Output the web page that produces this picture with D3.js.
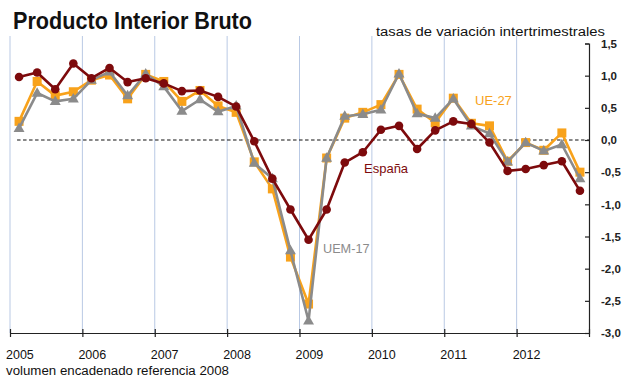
<!DOCTYPE html>
<html>
<head>
<meta charset="utf-8">
<script src="https://cdn.jsdelivr.net/npm/d3@7"></script>
<style>
  html, body { margin: 0; padding: 0; background: #fff; }
  svg { display: block; font-family: "Liberation Sans", Arial, Helvetica, sans-serif; }
</style>
</head>
<body>
<svg id="chart" width="640" height="380"></svg>
<script>
// ---- data ----
const years = [2005, 2006, 2007, 2008, 2009, 2010, 2011, 2012];
const quarterNames = ["T1", "T2", "T3", "T4"];
const yTicks = [1.5, 1.0, 0.5, 0.0, -0.5, -1.0, -1.5, -2.0, -2.5, -3.0];

const espana = [0.98, 1.05, 0.79, 1.19, 0.96, 1.12, 0.90, 0.96,
                0.88, 0.76, 0.77, 0.67, 0.52, -0.02, -0.60, -1.08,
                -1.55, -1.08, -0.35, -0.19, 0.16, 0.22, -0.14, 0.15,
                0.29, 0.25, -0.04, -0.48, -0.45, -0.39, -0.33, -0.79];
const ue27 = [0.29, 0.91, 0.69, 0.75, 0.93, 1.01, 0.64, 1.02,
              0.91, 0.60, 0.77, 0.53, 0.43, -0.34, -0.76, -1.82,
              -2.55, -0.28, 0.34, 0.43, 0.55, 1.02, 0.48, 0.27,
              0.65, 0.26, 0.22, -0.33, -0.04, -0.16, 0.11, -0.50];
const uem17 = [0.18, 0.73, 0.60, 0.64, 0.93, 1.06, 0.69, 1.03,
               0.83, 0.45, 0.63, 0.44, 0.53, -0.36, -0.60, -1.72,
               -2.81, -0.28, 0.37, 0.40, 0.47, 1.03, 0.41, 0.34,
               0.64, 0.22, 0.10, -0.34, -0.04, -0.17, -0.07, -0.60];

const quarters = [];
years.forEach(yr => quarterNames.forEach(q => quarters.push(yr + q)));

// ---- layout ----
const svg = d3.select("#chart");
const plotLeft = 10, plotRight = 589, plotTop = 43.5, plotBottom = 333;

const xBand = d3.scaleBand().domain(quarters).range([plotLeft, plotRight]).paddingInner(0).paddingOuter(0);
const xYear = d3.scaleLinear().domain([years[0], years[years.length - 1] + 1]).range([plotLeft, plotRight]);
const y = d3.scaleLinear().domain([-3, 1.5]).range([plotBottom, plotTop]);
const cx = (d, i) => xBand(quarters[i]) + xBand.bandwidth() / 2;

const colEsp = "#7d0a0c", colUE = "#f8a21b", colUEM = "#8b8b8b";

// gridlines
svg.append("g").selectAll("line")
  .data(years)
  .join("line")
  .attr("x1", d => xYear(d)).attr("x2", d => xYear(d))
  .attr("y1", 36).attr("y2", plotBottom)
  .attr("stroke", "#b9c9e4").attr("stroke-width", 1);

// zero dashed line
svg.append("line")
  .attr("x1", xBand(quarters[0]) + xBand.bandwidth() / 2 - 2).attr("x2", plotRight)
  .attr("y1", y(0)).attr("y2", y(0))
  .attr("stroke", "#111").attr("stroke-width", 1.2).attr("stroke-dasharray", "3.5,2.5");

// x axis
const xAxis = d3.axisBottom(xYear)
  .tickValues(years.concat([years[years.length - 1] + 1]))
  .tickSizeInner(4).tickSizeOuter(0).tickFormat("");
const gx = svg.append("g").attr("transform", `translate(0,${plotBottom})`).call(xAxis);
gx.select(".domain").attr("stroke", "#222").attr("stroke-width", 1.2);
gx.selectAll(".tick line").attr("stroke", "#222").attr("stroke-width", 1.2).attr("y1", -4).attr("y2", 4);

// year labels
svg.append("g").selectAll("text")
  .data(years)
  .join("text")
  .attr("x", d => xYear(d) - 4)
  .attr("y", 359)
  .attr("font-size", 12.5)
  .attr("fill", "#111")
  .text(d => d);

// y axis (right)
const fmt = d => d3.format(".1f")(d).replace("−", "-").replace(".", ",");
const yAxis = d3.axisRight(y).tickValues(yTicks).tickSizeInner(-4).tickSizeOuter(-4)
  .tickPadding(12).tickFormat(fmt);
const gy = svg.append("g").attr("transform", `translate(${plotRight},0)`).call(yAxis);
gy.select(".domain").attr("stroke", "#222").attr("stroke-width", 1.2);
gy.selectAll(".tick line").attr("stroke", "#222").attr("stroke-width", 1.2);
gy.selectAll(".tick text")
  .attr("font-size", 11.5).attr("font-weight", "bold").attr("fill", "#222")
  .attr("font-family", "'Liberation Sans', Arial, sans-serif");

// series
const line = d3.line().x(cx).y(d => y(d));

function drawSeries(data, color) {
  svg.append("path").datum(data)
    .attr("d", line)
    .attr("fill", "none").attr("stroke", color)
    .attr("stroke-width", 2.6).attr("stroke-linejoin", "round");
}

// UE-27 (squares)
drawSeries(ue27, colUE);
svg.append("g").selectAll("rect")
  .data(ue27).join("rect")
  .attr("x", (d, i) => cx(d, i) - 4.5).attr("y", d => y(d) - 4.5)
  .attr("width", 9).attr("height", 9).attr("fill", colUE);

// UEM-17 (triangles)
drawSeries(uem17, colUEM);
const tri = d3.symbol().type(d3.symbolTriangle).size(52);
svg.append("g").selectAll("path")
  .data(uem17).join("path")
  .attr("d", tri)
  .attr("transform", (d, i) => `translate(${cx(d, i)},${y(d) + 0.5})`)
  .attr("fill", colUEM);

// España (circles)
drawSeries(espana, colEsp);
svg.append("g").selectAll("circle")
  .data(espana).join("circle")
  .attr("cx", cx).attr("cy", d => y(d))
  .attr("r", 4.3).attr("fill", colEsp);

// series labels
svg.append("text").attr("x", 475).attr("y", 105).attr("font-size", 13).attr("fill", colUE).text("UE-27");
svg.append("text").attr("x", 364).attr("y", 173).attr("font-size", 13).attr("fill", colEsp).text("España");
svg.append("text").attr("x", 323).attr("y", 253).attr("font-size", 12.7).attr("fill", colUEM).text("UEM-17");

// titles
svg.append("text").attr("x", 13).attr("y", 29)
  .attr("font-size", 23).attr("font-weight", "bold").attr("fill", "#111")
  .attr("font-family", "'Liberation Sans Narrow', 'Liberation Sans', Arial, sans-serif")
  .attr("textLength", 239).attr("lengthAdjust", "spacingAndGlyphs")
  .text("Producto Interior Bruto");
svg.append("text").attr("x", 376).attr("y", 36)
  .attr("font-size", 12.5).attr("fill", "#111")
  .attr("textLength", 229).attr("lengthAdjust", "spacingAndGlyphs")
  .text("tasas de variación intertrimestrales");
svg.append("text").attr("x", 6).attr("y", 375)
  .attr("font-size", 12.5).attr("fill", "#111")
  .attr("textLength", 223).attr("lengthAdjust", "spacingAndGlyphs")
  .text("volumen encadenado referencia 2008");
</script>
</body>
</html>
